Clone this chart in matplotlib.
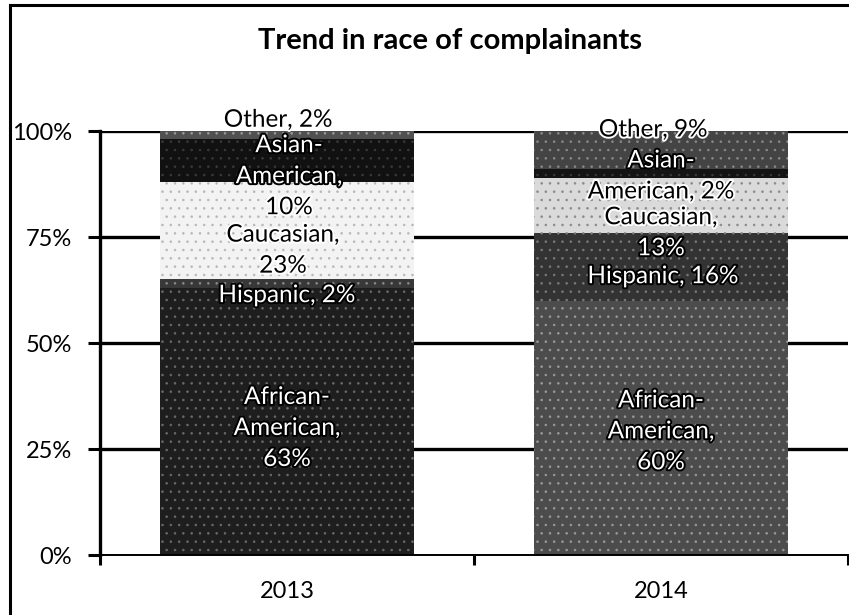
import matplotlib
matplotlib.use('Agg')
import matplotlib.pyplot as plt
import matplotlib.patheffects as pe
from matplotlib.lines import Line2D
from matplotlib.colors import to_rgb

years = ['2013', '2014']
groups = ['African-American', 'Hispanic', 'Caucasian', 'Asian-American', 'Other']
share_2013 = [63, 2, 23, 10, 2]
share_2014 = [60, 16, 13, 2, 9]

labels_2013 = ['African-\nAmerican,\n63%', 'Hispanic, 2%', 'Caucasian,\n23%',
               'Asian-\nAmerican,\n10%', 'Other, 2%']
labels_2014 = ['African-\nAmerican,\n60%', 'Hispanic, 16%', 'Caucasian,\n13%',
               'Asian-\nAmerican, 2%', 'Other, 9%']

# greys as they came out of the scan, plus the speckle colour on top
fills_2013 = ['#1e1e1e', '#383838', '#f3f3f3', '#111111', '#505050']
fills_2014 = ['#4c4c4c', '#333333', '#dadada', '#141414', '#444444']
speck_2013 = ['#6a6a6a', '#8a8a8a', '#b8b8b8', '#3a3a3a', '#9a9a9a']
speck_2014 = ['#9a9a9a', '#7a7a7a', '#8a8a8a', '#3a3a3a', '#8a8a8a']

# label nudges in pixels (right, down) from the middle of each segment
nudge_2013 = [(0, 7), (0, 12), (-4, 20), (2, 16), (-9, -15)]
nudge_2014 = [(0, 4), (2, 10), (0, 28), (0, 3), (-8, -20)]

plt.rcParams['font.family'] = ['Lato', 'DejaVu Sans']
plt.rcParams['hatch.linewidth'] = 0.6

fig = plt.figure(figsize=(8.49, 6.15), dpi=100)
ax = fig.add_axes([100 / 849, 60 / 615, 748 / 849, 424 / 615])

shares = [share_2013, share_2014]
labels = [labels_2013, labels_2014]
fills = [fills_2013, fills_2014]
specks = [speck_2013, speck_2014]
nudges = [nudge_2013, nudge_2014]

px_per_pct = 424 / 100
line_px = 31

for i in range(len(years)):
    bottom = 0
    segs = []
    for j in range(len(groups)):
        ax.bar(i, shares[i][j], bottom=bottom, width=0.68, color=fills[i][j],
               edgecolor=specks[i][j], linewidth=0, hatch='..', zorder=2)
        segs.append((bottom, bottom + shares[i][j], fills[i][j]))
        bottom += shares[i][j]

    def is_dark(val):
        for lo, hi, c in segs:
            if lo <= val <= hi:
                return sum(to_rgb(c)) / 3 < 0.5
        return False

    bottom = 0
    for j in range(len(groups)):
        mid = bottom + shares[i][j] / 2
        bottom += shares[i][j]
        dx, dy = nudges[i][j]
        lines = labels[i][j].split('\n')
        n = len(lines)
        for k, line in enumerate(lines):
            off = dy + (k - (n - 1) / 2) * line_px
            val = mid - off / px_per_pct
            if is_dark(val):
                col, halo = 'white', 'black'
            else:
                col, halo = 'black', 'white'
            ax.annotate(line, xy=(i, mid), xytext=(dx, -off),
                        textcoords='offset pixels', ha='center', va='center',
                        fontsize=17.5, color=col, zorder=5,
                        path_effects=[pe.withStroke(linewidth=2.8, foreground=halo)])

ax.set_xlim(-0.5, 1.5)
ax.set_ylim(0, 100)
ax.set_yticks([0, 25, 50, 75, 100])
ax.set_yticklabels(['0%', '25%', '50%', '75%', '100%'])
ax.set_xticks([0, 1])
ax.set_xticklabels(years)
ax.set_xticks([-0.5, 0.5, 1.5], minor=True)

ax.tick_params(axis='y', direction='out', length=9, width=2.2, pad=11,
               labelsize=17)
ax.tick_params(axis='x', which='major', length=0, pad=19, labelsize=17)
ax.tick_params(axis='x', which='minor', direction='out', length=7, width=2.2)

ax.yaxis.grid(True, color='black', linewidth=2.4, zorder=0)
ax.set_axisbelow(True)
gl = ax.yaxis.get_gridlines()
gl[0].set_linewidth(1.2)

for s in ['top', 'right']:
    ax.spines[s].set_visible(False)
ax.spines['left'].set_linewidth(2.4)
ax.spines['bottom'].set_linewidth(1.4)

fig.text(450 / 849, 1 - 41 / 615, 'Trend in race of complainants',
         ha='center', va='center', fontsize=21, fontweight='bold')

# outer frame of the chart as scanned
fig.add_artist(Line2D([9.5 / 849, 9.5 / 849], [0, 1 - 5 / 615], color='black', linewidth=2.2))
fig.add_artist(Line2D([9.5 / 849, 1], [1 - 5 / 615, 1 - 5 / 615], color='black', linewidth=2.2))

fig.savefig('out.png', dpi=100)
